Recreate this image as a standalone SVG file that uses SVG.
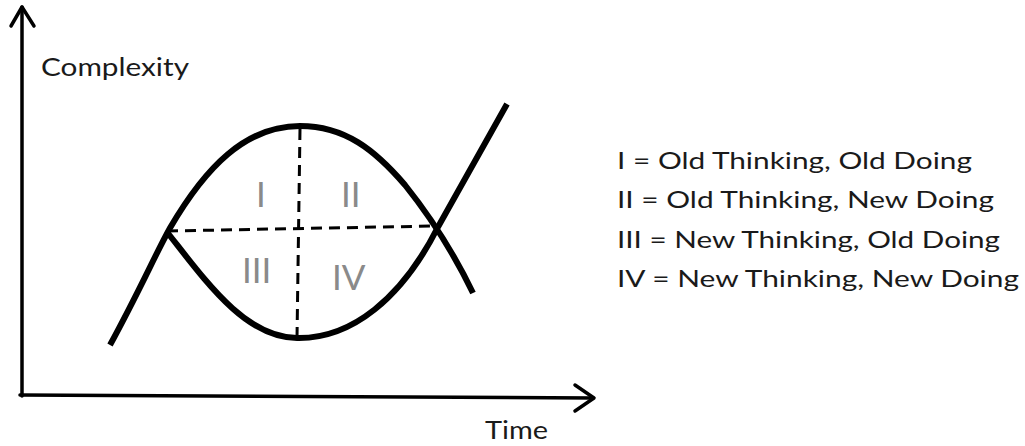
<svg xmlns="http://www.w3.org/2000/svg" width="1025" height="446" viewBox="0 0 1025 446">
<style>
.axis{fill:none;stroke:#000;stroke-width:3.5;stroke-linecap:round;stroke-linejoin:round}
.curve{fill:none;stroke:#000;stroke-width:6;stroke-linecap:butt;stroke-linejoin:round}
.dash{fill:none;stroke:#000;stroke-width:3;stroke-dasharray:11 7}
.lbl{font-family:Lato,"Open Sans","Liberation Sans",sans-serif;fill:#1a1a1a}
.num{font-family:Lato,"Open Sans","Liberation Sans",sans-serif;fill:#8a8a8a;font-size:35px}
</style>
<rect width="1025" height="446" fill="#fff"/>
<g id="axes">
<path class="axis" d="M22,396 L22,7"/>
<path class="axis" d="M11,26 L22,7 L34,26"/>
<path class="axis" d="M20,395 L593,398"/>
<path class="axis" d="M575,385 L594,398 L575,411"/>
<text class="lbl" x="41" y="76" font-size="25" textLength="148" lengthAdjust="spacingAndGlyphs">Complexity</text>
<text class="lbl" x="485" y="439" font-size="25" textLength="63" lengthAdjust="spacingAndGlyphs">Time</text>
</g>
<g id="curves">
<path class="curve" d="M110,345 C140,290 155,255 170,228 C205,168 245,126 300,126 C345,126 375,150 405,185 Q445,235 473,293"/>
<path class="curve" d="M167,232 C205,280 245,338 297,338 C352,339 402,298 438,227 L507,104"/>
</g>
<g id="dividers">
<path class="dash" d="M167,231 L436,226"/>
<path class="dash" d="M300,129 L297,338"/>
</g>
<g id="quadrants">
<text class="num" x="256" y="207">I</text>
<text class="num" x="341" y="207">II</text>
<text class="num" x="242" y="283">III</text>
<text class="num" x="332" y="290">IV</text>
</g>
<g id="legend" class="lbl" font-size="23">
<text x="617" y="169" textLength="355" lengthAdjust="spacingAndGlyphs">I = Old Thinking, Old Doing</text>
<text x="617" y="208" textLength="377" lengthAdjust="spacingAndGlyphs">II = Old Thinking, New Doing</text>
<text x="617" y="248" textLength="383" lengthAdjust="spacingAndGlyphs">III = New Thinking, Old Doing</text>
<text x="617" y="287" textLength="402" lengthAdjust="spacingAndGlyphs">IV = New Thinking, New Doing</text>
</g>
</svg>
